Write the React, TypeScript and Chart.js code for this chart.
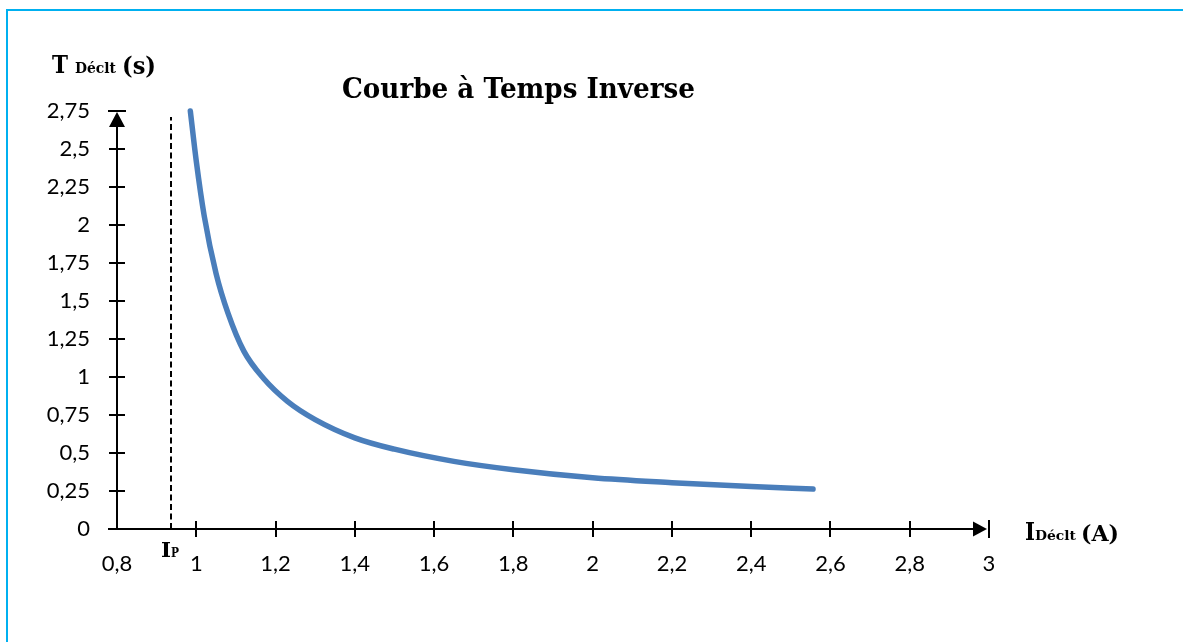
import React, { useEffect, useRef } from "react";
import { Chart, registerables } from "chart.js";

Chart.register(...registerables);

// Trip current (A) and trip time (s)
const currentValues = [0.985, 1.0, 1.02, 1.05, 1.08, 1.12, 1.17, 1.23, 1.3, 1.4, 1.5, 1.65, 1.8, 2.0, 2.2, 2.4, 2.556];
const timeValues = [2.75, 2.42, 2.06, 1.68, 1.42, 1.17, 0.99, 0.84, 0.72, 0.6, 0.525, 0.445, 0.39, 0.337, 0.305, 0.279, 0.263];

const xTickValues = [0.8, 1, 1.2, 1.4, 1.6, 1.8, 2, 2.2, 2.4, 2.6, 2.8, 3];
const yTickValues = [0, 0.25, 0.5, 0.75, 1, 1.25, 1.5, 1.75, 2, 2.25, 2.5, 2.75];
const pickupCurrent = 0.936;
const dashTop = 2.71;

const chartTitle = "Courbe à Temps Inverse";
const yTitle = ["T", "Déclt", "(s)"];
const xTitle = ["I", "Déclt", "(A)"];
const pickupLabel = ["I", "P"];

const fmt = (v: number) => String(Number(v.toFixed(2))).replace(".", ",");

function drawFit(ctx: CanvasRenderingContext2D, text: string, x: number, baseline: number, font: string, width: number) {
  ctx.save();
  ctx.font = font;
  const w = ctx.measureText(text).width || 1;
  ctx.translate(x, baseline);
  ctx.scale(width / w, 1);
  ctx.textAlign = "left";
  ctx.textBaseline = "alphabetic";
  ctx.fillStyle = "#000";
  ctx.fillText(text, 0, 0);
  ctx.restore();
}

const axesPlugin = {
  id: "customAxes",
  beforeDatasetsDraw(chart: any) {
    const ctx: CanvasRenderingContext2D = chart.ctx;
    const xs = chart.scales.x;
    const ys = chart.scales.y;
    const x0 = Math.round(xs.getPixelForValue(xTickValues[0]));
    const xEnd = Math.round(xs.getPixelForValue(xTickValues[xTickValues.length - 1]));
    const y0 = Math.round(ys.getPixelForValue(yTickValues[0]));
    const yEnd = Math.round(ys.getPixelForValue(yTickValues[yTickValues.length - 1]));
    ctx.save();
    // frame border
    ctx.fillStyle = "#00B0F0";
    ctx.fillRect(6, 9, chart.width, 2);
    ctx.fillRect(6, 9, 2, chart.height);

    ctx.strokeStyle = "#000";
    ctx.fillStyle = "#000";
    ctx.lineWidth = 2;
    ctx.lineCap = "butt";
    // x axis
    ctx.beginPath();
    ctx.moveTo(x0 - 9, y0);
    ctx.lineTo(xEnd - 10, y0);
    ctx.stroke();
    // y axis
    ctx.beginPath();
    ctx.moveTo(x0, y0 + 1);
    ctx.lineTo(x0, yEnd + 10);
    ctx.stroke();
    // x ticks
    xTickValues.slice(1, -1).forEach((v) => {
      const px = Math.round(xs.getPixelForValue(v));
      ctx.beginPath();
      ctx.moveTo(px, y0 - 8);
      ctx.lineTo(px, y0 + 8);
      ctx.stroke();
    });
    // y ticks
    yTickValues.slice(1, -1).forEach((v) => {
      const py = Math.round(ys.getPixelForValue(v));
      ctx.beginPath();
      ctx.moveTo(x0 - 8, py);
      ctx.lineTo(x0 + 8, py);
      ctx.stroke();
    });
    // end bars
    ctx.beginPath();
    ctx.moveTo(xEnd, y0 - 9);
    ctx.lineTo(xEnd, y0 + 9);
    ctx.moveTo(x0 - 9, yEnd);
    ctx.lineTo(x0 + 9, yEnd);
    ctx.stroke();
    // arrows
    ctx.beginPath();
    ctx.moveTo(xEnd - 2, y0);
    ctx.lineTo(xEnd - 16, y0 - 7.5);
    ctx.lineTo(xEnd - 16, y0 + 7.5);
    ctx.closePath();
    ctx.fill();
    ctx.beginPath();
    ctx.moveTo(x0, yEnd + 1);
    ctx.lineTo(x0 - 8, yEnd + 16);
    ctx.lineTo(x0 + 8, yEnd + 16);
    ctx.closePath();
    ctx.fill();
    // pickup dashed line
    const ipx = Math.round(xs.getPixelForValue(pickupCurrent));
    ctx.setLineDash([6, 3.5]);
    ctx.beginPath();
    ctx.moveTo(ipx, y0);
    ctx.lineTo(ipx, ys.getPixelForValue(dashTop));
    ctx.stroke();
    ctx.restore();
  },
  afterDraw(chart: any) {
    const ctx: CanvasRenderingContext2D = chart.ctx;
    const serif = '"DejaVu Serif"';
    drawFit(ctx, chartTitle, 342, 98, `bold 27px ${serif}`, 353);
    drawFit(ctx, yTitle[0], 52, 73, `bold 24px ${serif}`, 16);
    drawFit(ctx, yTitle[1], 75, 73, `bold 14px ${serif}`, 41);
    drawFit(ctx, yTitle[2], 122, 74, `bold 25px ${serif}`, 34);
    drawFit(ctx, xTitle[0], 1025, 540, `bold 24px ${serif}`, 10);
    drawFit(ctx, xTitle[1], 1035, 540, `bold 13px ${serif}`, 41);
    drawFit(ctx, xTitle[2], 1081, 541, `bold 23px ${serif}`, 38);
    drawFit(ctx, pickupLabel[0], 161, 557, `bold 20px ${serif}`, 10);
    drawFit(ctx, pickupLabel[1], 171, 557, `bold 13px ${serif}`, 8);
  },
};

export default function App() {
  const ref = useRef<HTMLCanvasElement | null>(null);
  useEffect(() => {
    if (!ref.current) return;
    const chart = new Chart(ref.current, {
      type: "line",
      data: {
        datasets: [
          {
            data: currentValues.map((x, i) => ({ x, y: timeValues[i] })),
            borderColor: "#4A7EBB",
            borderWidth: 5.5,
            borderCapStyle: "round",
            borderJoinStyle: "round",
            pointRadius: 0,
            cubicInterpolationMode: "monotone",
            fill: false,
            clip: false,
          } as any,
        ],
      },
      options: {
        responsive: false,
        animation: false,
        devicePixelRatio: 1,
        layout: { padding: { left: 0, top: 111, right: 194, bottom: 0 } },
        plugins: { legend: { display: false }, tooltip: { enabled: false }, title: { display: false } },
        scales: {
          x: {
            type: "linear",
            min: xTickValues[0],
            max: xTickValues[xTickValues.length - 1],
            border: { display: false },
            grid: { display: false, drawTicks: false },
            afterBuildTicks: (s: any) => {
              s.ticks = xTickValues.map((v) => ({ value: v }));
            },
            afterFit: (s: any) => {
              s.height = 113;
            },
            ticks: {
              padding: 22,
              color: "#000",
              font: { family: "Lato", size: 22 },
              maxRotation: 0,
              autoSkip: false,
              callback: (v: any) => fmt(Number(v)),
            },
          },
          y: {
            type: "linear",
            min: yTickValues[0],
            max: yTickValues[yTickValues.length - 1],
            border: { display: false },
            grid: { display: false, drawTicks: false },
            afterBuildTicks: (s: any) => {
              s.ticks = yTickValues.map((v) => ({ value: v }));
            },
            afterFit: (s: any) => {
              s.width = 117;
            },
            ticks: {
              padding: 27,
              color: "#000",
              font: { family: "Lato", size: 22 },
              autoSkip: false,
              callback: (v: any) => fmt(Number(v)),
            },
          },
        },
      },
      plugins: [axesPlugin],
    });
    return () => chart.destroy();
  }, []);
  return (
    <div style={{ position: "absolute", left: 0, top: 0, width: 1183, height: 642, background: "#fff" }}>
      <canvas ref={ref} width={1183} height={642} />
    </div>
  );
}
